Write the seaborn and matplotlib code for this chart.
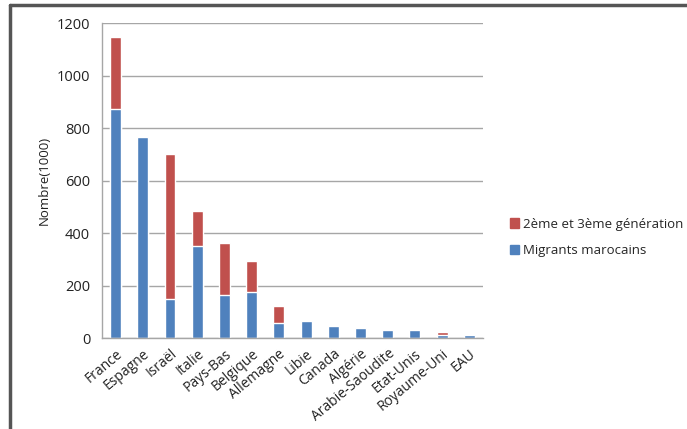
import numpy as np
import pandas as pd
import matplotlib.pyplot as plt
import seaborn as sns
from matplotlib.lines import Line2D
from matplotlib.patches import Patch

# data (thousands)
countries = ['France', 'Espagne', 'Israël', 'Italie', 'Pays-Bas', 'Belgique', 'Allemagne',
             'Libie', 'Canada', 'Algérie', 'Arabie-Saoudite', 'Etat-Unis', 'Royaume-Uni', 'EAU']
migrants = [872, 766, 147, 352, 163, 177, 57, 64, 47, 38, 30, 30, 11, 10]
generations = [275, 0, 553, 131, 198, 118, 64, 0, 0, 0, 0, 0, 11, 0]

blue = '#4F81BD'
red = '#C0504D'

df = pd.DataFrame({'Pays': countries, 'Migrants': migrants, 'Gen': generations})
df['Total'] = df['Migrants'] + df['Gen']

sns.set_style('white')
plt.rcParams['font.family'] = ['Open Sans', 'DejaVu Sans']

fig = plt.figure(figsize=(6.87, 4.29), dpi=100)
ax = fig.add_axes([0.1485, 0.212, 0.5545, 0.734])

# stacked bars: total first, migrants on top
sns.barplot(data=df, x='Pays', y='Total', color=red, width=0.4, saturation=1, ax=ax)
sns.barplot(data=df, x='Pays', y='Migrants', color=blue, width=0.4, saturation=1, ax=ax)

ax.set_ylim(0, 1200)
ax.set_xlim(-0.5, len(countries) - 0.5)
ax.set_yticks(range(0, 1201, 200))
ax.yaxis.grid(True, color='#A6A6A6', linewidth=1)
ax.set_axisbelow(True)

ax.set_xlabel('')
ax.set_ylabel('Nombre(1000)', fontsize=9.5, color='#222222')
ax.set_xticks(range(len(countries)))
ax.set_xticklabels(countries, rotation=40, ha='right', rotation_mode='anchor',
                   fontsize=10, color='#222222')
ax.set_xticks(np.arange(-0.5, len(countries), 1), minor=True)
ax.tick_params(axis='x', which='major', length=0, pad=6)
ax.tick_params(axis='x', which='minor', length=5, color='#A6A6A6', direction='out')
ax.tick_params(axis='y', length=5, color='#A6A6A6', direction='out', labelsize=10.5,
               labelcolor='#222222')

for s in ['top', 'right']:
    ax.spines[s].set_visible(False)
for s in ['left', 'bottom']:
    ax.spines[s].set_color('#A6A6A6')
    ax.spines[s].set_linewidth(1)

handles = [Patch(color=red, label='2ème et 3ème génération'),
           Patch(color=blue, label='Migrants marocains')]
fig.legend(handles=handles, loc='center left', bbox_to_anchor=(0.725, 0.447),
           frameon=False, fontsize=9.5, handlelength=0.7, handleheight=0.7,
           handletextpad=0.3, labelspacing=1.0)

# outer frame (top and left edges)
fig.add_artist(Line2D([0.0145, 1.0], [0.988, 0.988], color='#555555', linewidth=2.5))
fig.add_artist(Line2D([0.0145, 0.0145], [0.0, 0.988], color='#555555', linewidth=2.5))

fig.savefig('out.png', dpi=100)
